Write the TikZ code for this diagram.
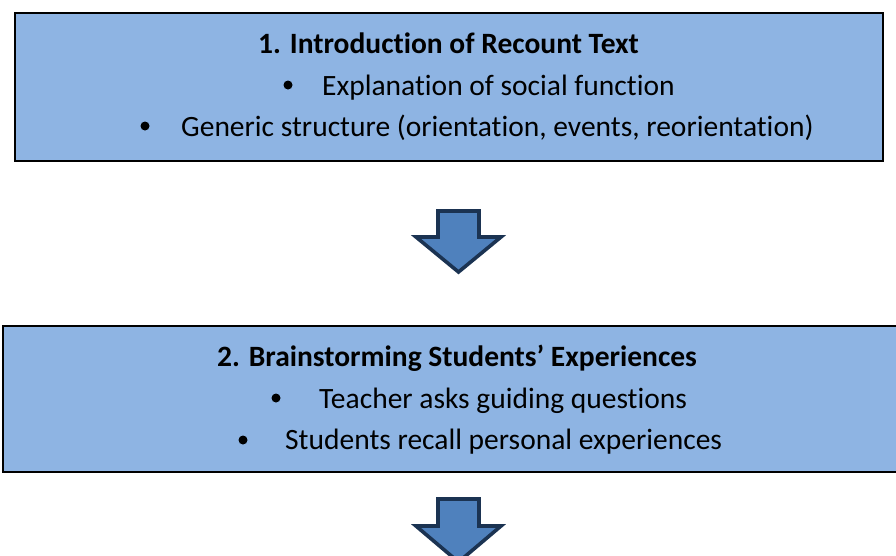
\documentclass[tikz,border=0pt]{standalone}
\usepackage{fontspec}
\setmainfont{Carlito}[Ligatures={NoCommon}]
\definecolor{boxfill}{HTML}{8EB4E3}
\definecolor{arrfill}{HTML}{4F81BD}
\definecolor{arrline}{HTML}{1B3352}
\tikzset{
  stepbox/.style={draw=black, line width=1.6pt, fill=boxfill},
  blockarrow/.style={draw=arrline, line width=3.6pt, fill=arrfill, line join=miter},
  txt/.style={anchor=base west, inner sep=0pt, font=\fontsize{29.5}{35}\selectfont},
  ttl/.style={txt, font=\fontsize{29.5}{35}\selectfont\bfseries},
  dot/.style={circle, fill=black, inner sep=0pt, minimum size=9pt}
}
\begin{document}
\begin{tikzpicture}[x=1pt, y=-1pt]
\useasboundingbox (0,0) rectangle (896,555);
\clip (0,0) rectangle (896,555);
% box 1
\draw[stepbox] (15,13) rectangle (883,161);
\node[ttl] (t1) at (258,53) {1. Introduction of Recount Text};
\node[dot] (d11) at (288,85) {};
\node[txt] (b11) at (322,95) {Explanation of social function};
\node[dot] (d12) at (145,126) {};
\node[txt] (b12) at (181,136) {Generic structure (orientation, events, reorientation)};
% arrow 1
\draw[blockarrow] (438,211) -- (479,211) -- (479,237) -- (501,237) -- (458.5,272) -- (416,237) -- (438,237) -- cycle;
% box 2
\draw[stepbox] (3,326) rectangle (899,472);
\node[ttl] (t2) at (217,366) {2. Brainstorming Students’ Experiences};
\node[dot] (d21) at (276,398) {};
\node[txt] (b21) at (319,408) {Teacher asks guiding questions};
\node[dot] (d22) at (243,440) {};
\node[txt] (b22) at (285,449) {Students recall personal experiences};
% arrow 2
\draw[blockarrow] (438,499) -- (479,499) -- (479,526) -- (501,526) -- (458.5,562) -- (416,526) -- (438,526) -- cycle;
\end{tikzpicture}
\end{document}
